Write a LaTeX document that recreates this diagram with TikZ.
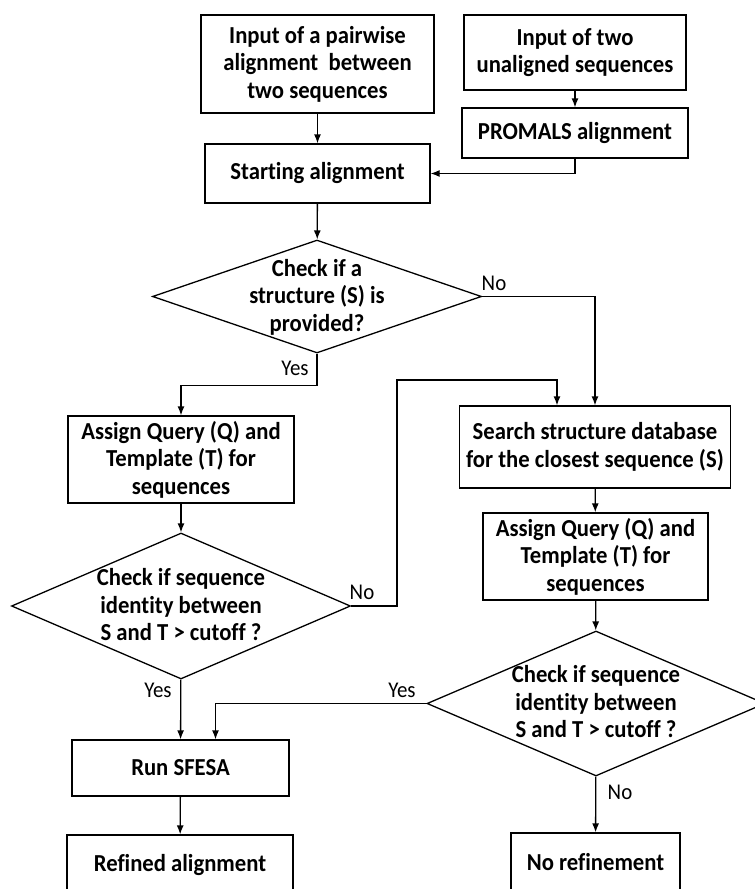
\documentclass[tikz,border=0pt]{standalone}
\usepackage{fontspec}
\setmainfont{Carlito}[FakeStretch=0.93, Ligatures=CommonOff]
\usetikzlibrary{shapes.geometric, arrows.meta}

\tikzset{
	box/.style={draw, line width=1.3pt, align=center, inner sep=0pt, font=\bfseries\fontsize{24.4}{27.5}\selectfont},
	decision/.style={draw, diamond, line width=1.3pt, inner sep=0pt},
	dtext/.style={align=center, inner sep=0pt, font=\bfseries\fontsize{24.4}{27.5}\selectfont},
	answer/.style={font=\fontsize{22.5}{25}\selectfont},
	flow/.style={line width=1.3pt, -{Latex[length=9pt, width=7pt]}}
}

\begin{document}
\begin{tikzpicture}[x=1pt, y=-1pt]
	\useasboundingbox (0,0) rectangle (755,889);

	\node[box, minimum width=233pt, minimum height=98pt] (pair) at (317.5,64) {Input of a pairwise\\alignment~ between\\two sequences};
	\node[box, minimum width=222pt, minimum height=75pt] (twoseq) at (575,52.5) {Input of two\\unaligned sequences};
	\node[box, minimum width=226pt, minimum height=50pt] (promals) at (575,133) {PROMALS alignment};
	\node[box, minimum width=225pt, minimum height=59pt] (start) at (317.5,173.5) {Starting alignment};

	\node[decision, minimum width=329pt, minimum height=113pt] (checkS) at (317,296.5) {};
	\node[dtext] (checkStxt) at (317,297) {Check if a\\structure (S) is\\provided?};

	\node[box, minimum width=226pt, minimum height=87pt] (assignL) at (181,459.5) {Assign Query (Q) and\\Template (T) for\\sequences};
	\node[box, minimum width=271pt, minimum height=82pt] (search) at (595,447) {Search structure database\\for the closest sequence (S)};
	\node[box, minimum width=225pt, minimum height=87pt] (assignR) at (595.5,556.5) {Assign Query (Q) and\\Template (T) for\\sequences};

	\node[decision, minimum width=339pt, minimum height=146pt] (identL) at (181,606) {};
	\node[dtext] (identLtxt) at (181,605) {Check if sequence\\identity between\\S and T > cutoff ?};
	\node[decision, minimum width=338pt, minimum height=145pt] (identR) at (596,703.5) {};
	\node[dtext] (identRtxt) at (596,702) {Check if sequence\\identity between\\S and T > cutoff ?};

	\node[box, minimum width=217pt, minimum height=56pt] (sfesa) at (180.5,768) {Run SFESA};
	\node[box, minimum width=226pt, minimum height=60pt] (refined) at (180,865) {Refined alignment};
	\node[box, minimum width=169pt, minimum height=58pt] (norefine) at (595.5,862) {No refinement};

	\node[answer] (no1) at (494,283) {No};
	\node[answer] (yes1) at (295,368) {Yes};
	\node[answer] (no2) at (362,592) {No};
	\node[answer] (yes2) at (158,690) {Yes};
	\node[answer] (yes3) at (402,690) {Yes};
	\node[answer] (no3) at (620,792) {No};

	\coordinate (back) at (397,380);

	\draw[flow] (pair) -- (start);
	\draw[flow] (twoseq) -- (promals);
	\draw[flow] (promals.south) |- (start.east);
	\draw[flow] (start) -- (checkS);
	\draw[flow] (checkS.east) -| (search.north);
	\draw[flow] (checkS.south) -- ++(0,32) -| (assignL.north);
	\draw[flow] (assignL) -- (identL);
	\draw[flow] (identL.east) -| (back) -| ([xshift=-38pt]search.north);
	\draw[flow] (search) -- (assignR);
	\draw[flow] (assignR) -- (identR);
	\draw[flow] (identL) -- (sfesa);
	\draw[flow] (identR.west) -| ([xshift=35pt]sfesa.north);
	\draw[flow] (identR) -- (norefine);
	\draw[flow] (sfesa) -- (refined);
\end{tikzpicture}
\end{document}
